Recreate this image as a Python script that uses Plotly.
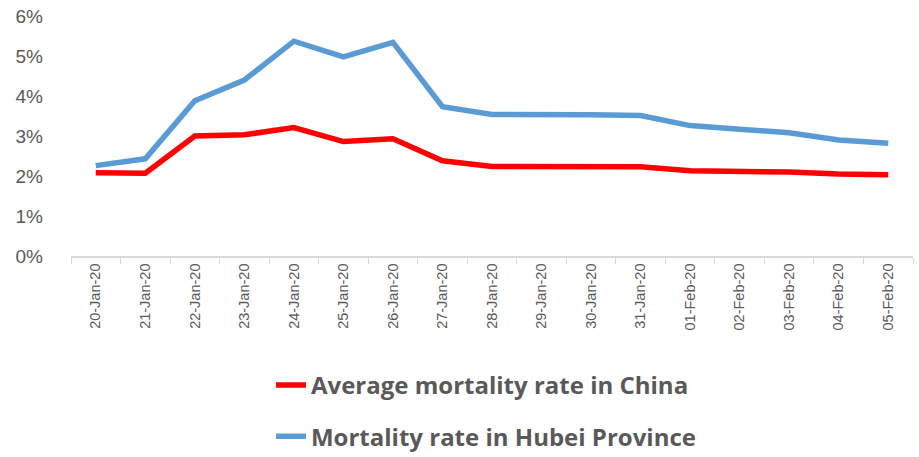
import plotly.graph_objects as go

# Dates and mortality rates (fractions)
dates = ['20-Jan-20', '21-Jan-20', '22-Jan-20', '23-Jan-20', '24-Jan-20', '25-Jan-20',
         '26-Jan-20', '27-Jan-20', '28-Jan-20', '29-Jan-20', '30-Jan-20', '31-Jan-20',
         '01-Feb-20', '02-Feb-20', '03-Feb-20', '04-Feb-20', '05-Feb-20']
china_rate = [0.0208, 0.0207, 0.0300, 0.0303, 0.0321, 0.0286, 0.0293, 0.0238, 0.0224,
              0.0223, 0.0223, 0.0223, 0.0213, 0.0212, 0.0210, 0.0205, 0.0203]
hubei_rate = [0.0226, 0.0243, 0.0388, 0.0440, 0.0537, 0.0498, 0.0534, 0.0373, 0.0354,
              0.0355, 0.0353, 0.0351, 0.0326, 0.0317, 0.0308, 0.0290, 0.0282]

fig = go.Figure()

fig.add_trace(go.Scatter(
    x=dates, y=china_rate, mode='lines',
    name='Average mortality rate in China', legendgroup='china',
    line=dict(color='#FF0000', width=5.5)
))
fig.add_trace(go.Scatter(
    x=dates, y=hubei_rate, mode='lines',
    name='Mortality rate in Hubei Province', legendgroup='hubei',
    line=dict(color='#5B9BD5', width=5.5)
))

fig.update_layout(
    width=919, height=457,
    margin=dict(l=71, r=6, t=16, b=201),
    plot_bgcolor='white',
    paper_bgcolor='white',
    font=dict(family='Liberation Sans', color='#595959'),
    showlegend=True,
    legend=dict(
        orientation='v', x=0.2375, xanchor='left',
        yref='container', y=0.206, yanchor='top',
        font=dict(size=24, family='Open Sans', color='#595959', weight='bold'),
        tracegroupgap=17, itemwidth=30,
    ),
    xaxis=dict(
        type='category', range=[-0.5, 16.5], automargin=False,
        showgrid=False, zeroline=False,
        showline=True, linecolor='#D9D9D9', linewidth=1.5,
        ticks='outside', tickson='boundaries', ticklen=6, tickcolor='#D9D9D9',
        tickangle=-90, tickfont=dict(size=14.5, color='#595959'),
    ),
    yaxis=dict(
        range=[0, 0.06], dtick=0.01, tickformat='.0%', automargin=False,
        showgrid=False, zeroline=False, showline=False,
        tickfont=dict(size=19, color='#595959'),
        ticklabelstandoff=27,
    ),
)

# drop the default 8px body margin so the figure sits at the page corner
fig.write_html("out.html", config={'displayModeBar': False},
               post_script="document.body.style.margin='0';")
